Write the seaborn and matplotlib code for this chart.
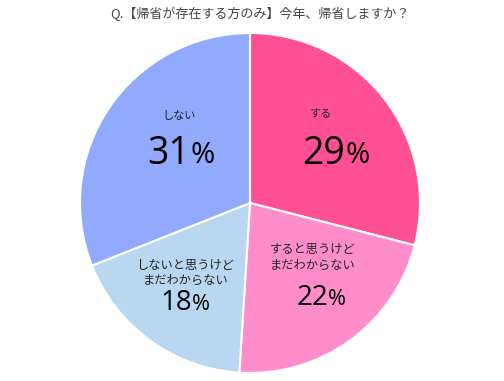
import matplotlib
matplotlib.use("Agg")
import matplotlib.pyplot as plt
import seaborn as sns

# data
labels = ["する", "すると思うけど\nまだわからない", "しないと思うけど\nまだわからない", "しない"]
values = [29, 22, 18, 31]
colors = ["#FF5094", "#FF8DCB", "#B9D7F0", "#91AAFD"]

sns.set_theme(style="white")
plt.rcParams['font.family'] = ['Noto Sans CJK JP', 'DejaVu Sans']

fig = plt.figure(figsize=(5.04, 3.81), dpi=100)
ax = fig.add_axes([80 / 504, 8 / 381, 340 / 504, 340 / 381])
ax.pie(values, colors=colors, startangle=90, counterclock=False,
       wedgeprops=dict(edgecolor="white", linewidth=1.5))
ax.set_xlim(-1, 1)
ax.set_ylim(-1, 1)
ax.set_aspect("equal")
ax.axis("off")

# label / number positions inside each slice (data coords)
label_pos = [(0.42, 0.53), (0.37, -0.32), (-0.38, -0.41), (-0.42, 0.51)]
num_pos = [(0.50, 0.29), (0.40, -0.56), (-0.40, -0.59), (-0.41, 0.29)]
big = [27, 20, 20, 27]
for lab, v, (lx, ly), (nx, ny), fs in zip(labels, values, label_pos, num_pos, big):
    ax.text(lx, ly, lab, ha="center", va="center", fontsize=8.8 if "\n" in lab else 8,
            color="#222222", linespacing=1.2)
    ax.text(nx + 0.06, ny, str(v), ha="right", va="center", fontsize=fs,
            color="black", family="Open Sans")
    ax.text(nx + 0.06, ny - 0.01, "%", ha="left", va="center", fontsize=fs * 0.78,
            color="black", family="Open Sans")

fig.text(260 / 504, 1 - 14 / 381, "Q.【帰省が存在する方のみ】今年、帰省しますか？",
         ha="center", va="center", fontsize=9.4, color="#444444")

fig.savefig("out.png", dpi=100)
